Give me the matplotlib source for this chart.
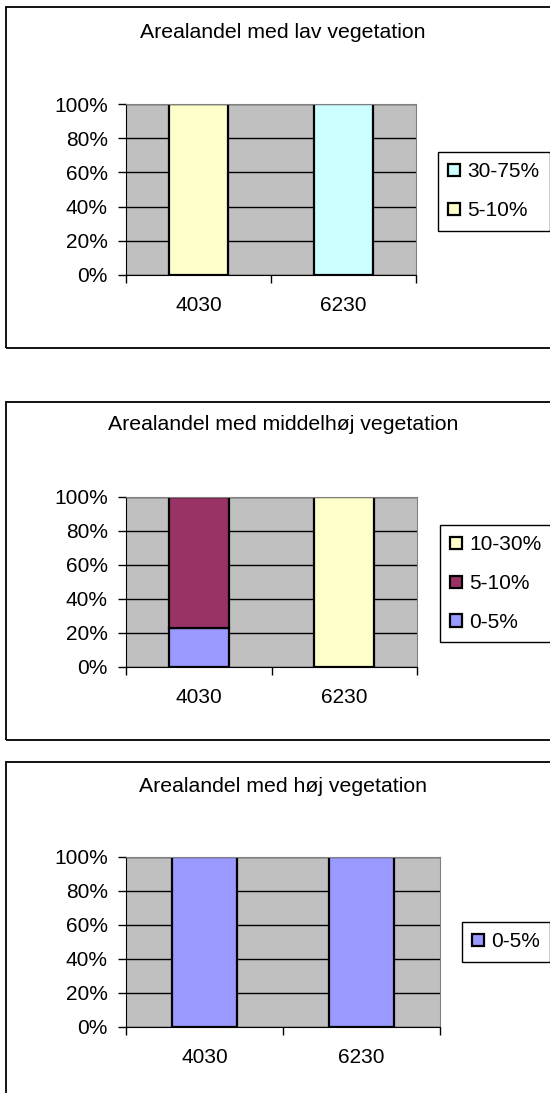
import matplotlib
matplotlib.use("Agg")
import matplotlib.pyplot as plt
from matplotlib.patches import Rectangle
from matplotlib.ticker import PercentFormatter, FixedLocator
import numpy as np

plt.rcParams["font.family"] = ["Liberation Sans", "DejaVu Sans"]

# Data
categories = ["4030", "6230"]

lav_title = "Arealandel med lav vegetation"
lav_labels = ["5-10%", "30-75%"]
lav_values = [[100, 0], [0, 100]]
lav_colors = ["#FFFFCC", "#CCFFFF"]

mid_title = "Arealandel med middelhøj vegetation"
mid_labels = ["0-5%", "5-10%", "10-30%"]
mid_values = [[23, 0], [77, 0], [0, 100]]
mid_colors = ["#9999FF", "#993366", "#FFFFCC"]

hoj_title = "Arealandel med høj vegetation"
hoj_labels = ["0-5%"]
hoj_values = [[100, 100]]
hoj_colors = ["#9999FF"]

W, H = 550, 1093
fig = plt.figure(figsize=(W / 100, H / 100), dpi=100)


def fx(px):
    return px / W


def fy(py):
    return 1 - py / H


def panel(title, labels, values, colors, ax_box, frame_box, title_y, leg_xy):
    # outer chart frame (runs off the right edge like the original)
    l, t, b = frame_box
    fig.patches.append(Rectangle((fx(l), fy(b)), 2, (b - t) / H, transform=fig.transFigure,
                                 fill=False, edgecolor="black", linewidth=1.3))
    fig.text(fx(283), fy(title_y), title, ha="center", va="center", fontsize=15.3)

    left, top, right, bottom = ax_box
    ax = fig.add_axes([fx(left), fy(bottom), (right - left) / W, (bottom - top) / H])
    ax.set_facecolor("#C0C0C0")
    ax.set_axisbelow(True)
    ax.yaxis.grid(True, color="black", linewidth=1)

    x = np.arange(len(categories))
    base = np.zeros(len(categories))
    handles = []
    for lab, vals, col in zip(labels, values, colors):
        h = ax.bar(x, vals, 0.41, bottom=base, color=col, edgecolor="black",
                   linewidth=1.6, label=lab)
        handles.append(h)
        base += np.array(vals)

    ax.set_ylim(0, 100)
    ax.set_xlim(-0.5, len(categories) - 0.5)
    ax.set_yticks([0, 20, 40, 60, 80, 100])
    ax.yaxis.set_major_formatter(PercentFormatter(decimals=0))
    ax.tick_params(axis="y", length=6, width=1, pad=7, labelsize=15)

    ax.xaxis.set_major_locator(FixedLocator([-0.5, 0.5, 1.5]))
    ax.set_xticklabels(["", "", ""])
    ax.xaxis.set_minor_locator(FixedLocator(x))
    ax.set_xticklabels(categories, minor=True)
    ax.tick_params(axis="x", which="major", length=6, width=1)
    ax.tick_params(axis="x", which="minor", length=0, pad=15, labelsize=15)

    for s in ["top", "right"]:
        ax.spines[s].set_color("#808080")
    for s in ["left", "bottom"]:
        ax.spines[s].set_color("black")

    leg = fig.legend(handles[::-1], labels[::-1], loc="upper left",
                     bbox_to_anchor=(fx(leg_xy[0]), fy(leg_xy[1])),
                     bbox_transform=fig.transFigure, borderaxespad=0,
                     fontsize=15, frameon=True, fancybox=False, framealpha=1,
                     edgecolor="black", handlelength=0.55, handleheight=0.55,
                     handletextpad=0.35, labelspacing=0.95, borderpad=0.5)
    leg.get_frame().set_linewidth(1)


panel(lav_title, lav_labels, lav_values, lav_colors,
      (126, 104, 416, 275), (6, 7, 348), 33, (438, 152))
panel(mid_title, mid_labels, mid_values, mid_colors,
      (126, 497, 417, 667), (6, 402, 740), 425, (440, 525))
panel(hoj_title, hoj_labels, hoj_values, hoj_colors,
      (126, 857, 440, 1027), (6, 762, 1100), 786, (462, 922))

fig.savefig("out.png", dpi=100)
